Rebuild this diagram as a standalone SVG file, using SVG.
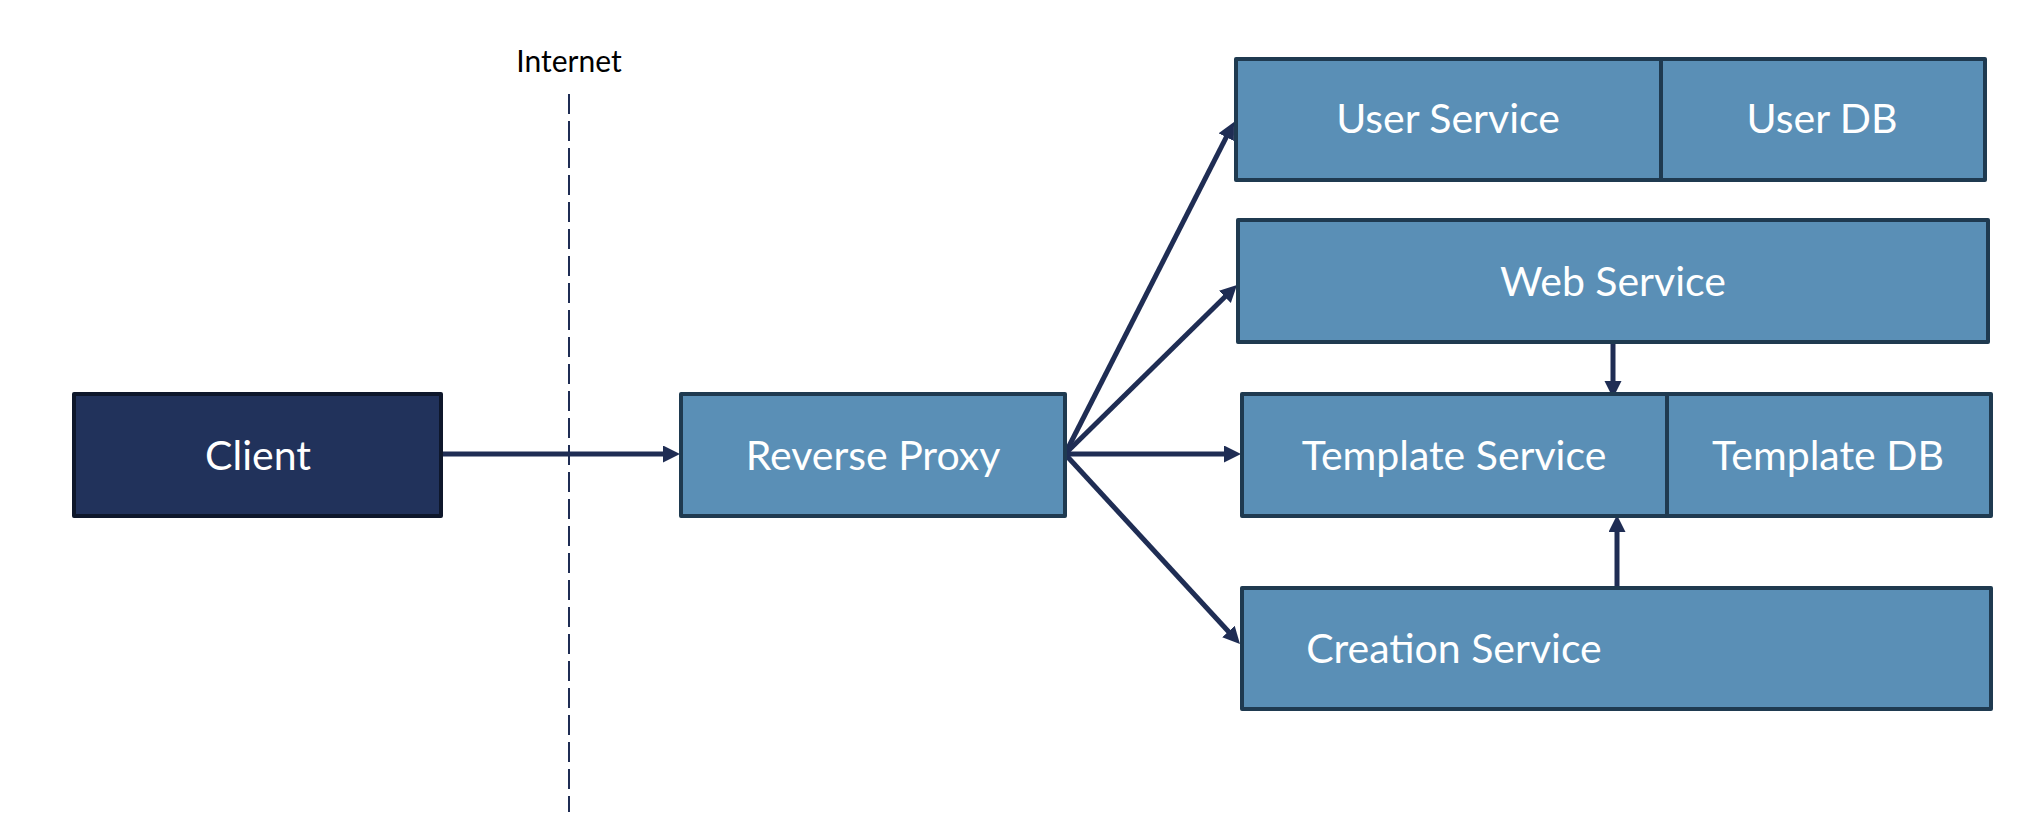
<svg xmlns="http://www.w3.org/2000/svg" width="2020" height="826" viewBox="0 0 2020 826">
  <style>
    .box { fill: #5a8fb6; stroke: #1f3a50; stroke-width: 4; stroke-linejoin: round; }
    .client { fill: #21325b; stroke: #0e172b; stroke-width: 4; stroke-linejoin: round; }
    .lbl { font-family: Lato, "Open Sans", sans-serif; font-size: 41px; fill: #ffffff; text-anchor: middle; }
    .conn { stroke: #1f2d54; stroke-width: 5; fill: none; marker-end: url(#arrow); }
  </style>
  <defs>
    <marker id="arrow" markerUnits="userSpaceOnUse" markerWidth="18" markerHeight="18" refX="2" refY="8.5" orient="auto">
      <path d="M0,0 L17,8.5 L0,17 z" fill="#1f2d54"/>
    </marker>
  </defs>
  <rect width="2020" height="826" fill="#ffffff"/>

  <g id="internet">
    <text x="569" y="71.5" font-family="Lato, 'Open Sans', sans-serif" font-size="30" fill="#000000" text-anchor="middle">Internet</text>
    <line x1="569" y1="94" x2="569" y2="812" stroke="#1f2d54" stroke-width="2" stroke-dasharray="20 7"/>
  </g>

  <g id="connectors">
    <line class="conn" x1="442" y1="454" x2="665" y2="454"/>
    <line class="conn" x1="1065" y1="454" x2="1227.2" y2="135.4"/>
    <line class="conn" x1="1065" y1="454" x2="1226.3" y2="295.5"/>
    <line class="conn" x1="1065" y1="454" x2="1226" y2="454"/>
    <line class="conn" x1="1065" y1="454" x2="1229.8" y2="633"/>
    <line class="conn" x1="1613" y1="342" x2="1613" y2="383"/>
    <line class="conn" x1="1617" y1="588" x2="1617" y2="530"/>
  </g>

  <g id="client">
    <rect class="client" x="74" y="394" width="367" height="122"/>
    <text class="lbl" x="258" y="470">Client</text>
  </g>

  <g id="reverse-proxy">
    <rect class="box" x="681" y="394" width="384" height="122"/>
    <text class="lbl" x="873" y="470">Reverse Proxy</text>
  </g>

  <g id="user-service">
    <rect class="box" x="1236" y="59" width="425" height="121"/>
    <text class="lbl" x="1448" y="133">User Service</text>
  </g>
  <g id="user-db">
    <rect class="box" x="1661" y="59" width="324" height="121"/>
    <text class="lbl" x="1822" y="133">User DB</text>
  </g>

  <g id="web-service">
    <rect class="box" x="1238" y="220" width="750" height="122"/>
    <text class="lbl" x="1613" y="296">Web Service</text>
  </g>

  <g id="template-service">
    <rect class="box" x="1242" y="394" width="425" height="122"/>
    <text class="lbl" x="1454" y="470">Template Service</text>
  </g>
  <g id="template-db">
    <rect class="box" x="1667" y="394" width="324" height="122"/>
    <text class="lbl" x="1828" y="470">Template DB</text>
  </g>

  <g id="creation-service">
    <rect class="box" x="1242" y="588" width="749" height="121"/>
    <text class="lbl" x="1454" y="663">Creation Service</text>
  </g>
</svg>
